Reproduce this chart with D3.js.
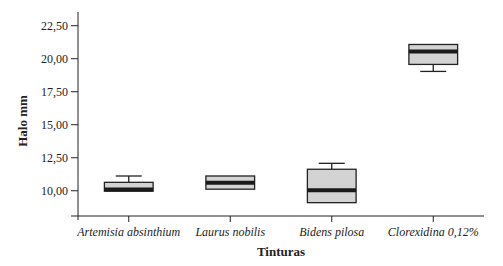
<!DOCTYPE html>
<html>
<head>
<meta charset="utf-8">
<script src="https://cdn.jsdelivr.net/npm/d3@7"></script>
<style>
  body { margin: 0; background: #fff; }
  svg text { font-family: "Liberation Serif", "DejaVu Serif", serif; fill: #222; }
</style>
</head>
<body>
<svg id="chart" width="503" height="266"></svg>
<script>
// box plot values (halo in mm)
var categories = ["Artemisia absinthium", "Laurus nobilis", "Bidens pilosa", "Clorexidina 0,12%"];
var mins    = [9.93, 10.08, 9.06, 19.00];
var q1s     = [9.93, 10.08, 9.06, 19.53];
var medians = [10.05, 10.57, 10.00, 20.51];
var q3s     = [10.60, 11.08, 11.59, 21.04];
var maxs    = [11.08, 11.08, 12.04, 21.04];
var yTicks  = [10, 12.5, 15, 17.5, 20, 22.5];

var svg = d3.select("#chart");
var plotL = 78, plotR = 484, plotT = 12, plotB = 216;

var x = d3.scaleBand().domain(categories).range([plotL, plotR]);
var y = d3.scaleLinear().domain([8.05, 23.5]).range([plotB, plotT]);

var fmt = d3.formatLocale({decimal: ",", thousands: ".", grouping: [3], currency: ["", ""]}).format(".2f");

var data = categories.map(function(c, i) {
  return {cat: c, min: mins[i], q1: q1s[i], med: medians[i], q3: q3s[i], max: maxs[i]};
});

// axes
var yAxis = svg.append("g")
  .attr("transform", "translate(" + plotL + ",0)")
  .call(d3.axisLeft(y).tickValues(yTicks).tickFormat(fmt).tickSize(7).tickSizeOuter(0).tickPadding(3));
yAxis.select(".domain").attr("d", "M0," + plotT + "V" + (plotB + 4));

var xAxis = svg.append("g")
  .attr("transform", "translate(0," + plotB + ")")
  .call(d3.axisBottom(x).tickSize(6).tickSizeOuter(0).tickPadding(5));
xAxis.select(".domain").attr("d", "M" + (plotL - 7) + ",0H" + plotR);

svg.selectAll(".domain, .tick line").attr("stroke", "#222");
yAxis.selectAll("text").attr("font-size", "12px").attr("font-family", "Liberation Serif");
xAxis.selectAll("text").attr("font-size", "12px").attr("font-style", "italic").attr("font-family", "Liberation Serif");

// boxes
var boxW = x.bandwidth() * 0.48, capW = 26;
var mid = function(d) { return x(d.cat) + x.bandwidth() / 2; };
var g = svg.selectAll(".box").data(data).enter().append("g").attr("class", "box");

var upper = g.filter(function(d) { return d.max > d.q3; });
upper.append("line")
  .attr("x1", mid).attr("x2", mid)
  .attr("y1", function(d) { return y(d.q3); })
  .attr("y2", function(d) { return y(d.max); })
  .attr("stroke", "#222").attr("stroke-width", 1.3);
upper.append("line")
  .attr("x1", function(d) { return mid(d) - capW / 2; })
  .attr("x2", function(d) { return mid(d) + capW / 2; })
  .attr("y1", function(d) { return y(d.max); })
  .attr("y2", function(d) { return y(d.max); })
  .attr("stroke", "#222").attr("stroke-width", 1.3);

var lower = g.filter(function(d) { return d.min < d.q1; });
lower.append("line")
  .attr("x1", mid).attr("x2", mid)
  .attr("y1", function(d) { return y(d.q1); })
  .attr("y2", function(d) { return y(d.min); })
  .attr("stroke", "#222").attr("stroke-width", 1.3);
lower.append("line")
  .attr("x1", function(d) { return mid(d) - capW / 2; })
  .attr("x2", function(d) { return mid(d) + capW / 2; })
  .attr("y1", function(d) { return y(d.min); })
  .attr("y2", function(d) { return y(d.min); })
  .attr("stroke", "#222").attr("stroke-width", 1.3);

g.append("rect")
  .attr("x", function(d) { return mid(d) - boxW / 2; })
  .attr("width", boxW)
  .attr("y", function(d) { return y(d.q3); })
  .attr("height", function(d) { return y(d.q1) - y(d.q3); })
  .attr("fill", "#d3d3d3")
  .attr("stroke", "#222").attr("stroke-width", 1.3);

g.append("line")
  .attr("x1", function(d) { return mid(d) - boxW / 2; })
  .attr("x2", function(d) { return mid(d) + boxW / 2; })
  .attr("y1", function(d) { return y(d.med); })
  .attr("y2", function(d) { return y(d.med); })
  .attr("stroke", "#1a1a1a").attr("stroke-width", 4);

// titles
svg.append("text")
  .attr("transform", "translate(27,121) rotate(-90)")
  .attr("text-anchor", "middle")
  .attr("font-size", "13px").attr("font-weight", "bold")
  .text("Halo mm");

svg.append("text")
  .attr("x", (plotL + plotR) / 2).attr("y", 256)
  .attr("text-anchor", "middle")
  .attr("font-size", "13px").attr("font-weight", "bold")
  .text("Tinturas");
</script>
</body>
</html>
